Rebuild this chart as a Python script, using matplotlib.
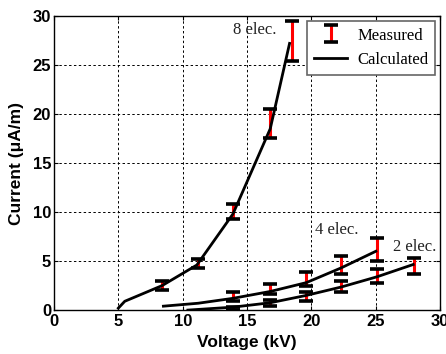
import matplotlib
matplotlib.use("Agg")
import matplotlib.pyplot as plt
from matplotlib.lines import Line2D
import numpy as np

# ---- data ----
calc_x8 = [5.0, 5.5, 8.4, 11.1, 13.9, 16.8, 18.3]
calc_y8 = [0.2, 0.9, 2.5, 4.6, 9.8, 18.5, 27.2]
meas_x8 = [8.4, 11.2, 13.9, 16.8, 18.5]
lo8 = [2.1, 4.3, 9.3, 17.6, 25.4]
hi8 = [3.0, 5.2, 10.8, 20.5, 29.5]

calc_x4 = [8.5, 11.2, 13.9, 16.8, 19.6, 22.3, 25.0]
calc_y4 = [0.4, 0.7, 1.2, 1.9, 2.8, 4.3, 6.0]
meas_x4 = [13.9, 16.8, 19.6, 22.3, 25.1]
lo4 = [0.9, 1.6, 2.5, 3.7, 5.0]
hi4 = [1.8, 2.7, 3.9, 5.5, 7.4]

calc_x2 = [10.4, 13.9, 16.8, 19.6, 22.3, 25.1, 27.9]
calc_y2 = [0.0, 0.3, 0.75, 1.5, 2.35, 3.4, 4.65]
meas_x2 = [13.9, 16.8, 19.6, 22.3, 25.1, 28.0]
lo2 = [0.0, 0.45, 0.9, 1.8, 2.8, 3.7]
hi2 = [0.35, 1.0, 1.85, 3.0, 4.15, 5.35]

labels = [("8 elec.", 13.9, 28.6), ("4 elec.", 20.3, 8.2), ("2 elec.", 26.3, 6.4)]
ticks = [0, 5, 10, 15, 20, 25, 30]

fig = plt.figure(figsize=(4.46, 3.54), dpi=100)
ax = fig.add_axes([0.121, 0.124, 0.866, 0.831])

sans = "Liberation Sans"
serif = "Liberation Serif"

err_handle = None
for mx, lo, hi in [(meas_x8, lo8, hi8), (meas_x4, lo4, hi4), (meas_x2, lo2, hi2)]:
    lo = np.array(lo); hi = np.array(hi)
    mid = (lo + hi) / 2
    c = ax.errorbar(mx, mid, yerr=[mid - lo, hi - mid], fmt='none', ecolor='red',
                    elinewidth=2.2, capsize=5.0, capthick=2.6, zorder=3)
    for cl in c[1]:
        cl.set_color('black')
        cl.set_markeredgecolor('black')
    err_handle = c

for cx, cy in [(calc_x8, calc_y8), (calc_x4, calc_y4), (calc_x2, calc_y2)]:
    ax.plot(cx, cy, color='black', lw=2.0, zorder=4)

for t, x, y in labels:
    ax.text(x, y, t, family=serif, fontsize=12, va='center', ha='left', color='#222222')

ax.set_xlim(0, 30)
ax.set_ylim(0, 30)
ax.set_xticks(ticks)
ax.set_yticks(ticks)
ax.grid(True, color='black', linestyle=(0, (2.5, 2.5)), linewidth=0.7)
ax.set_axisbelow(True)
ax.tick_params(direction='in', length=3, top=True, right=True, labelsize=12, pad=3)
ax.tick_params(axis='y', pad=2)
for lab in ax.get_xticklabels() + ax.get_yticklabels():
    lab.set_family(sans)
    lab.set_fontweight('bold')
ax.set_xlabel("Voltage (kV)", family=sans, fontweight='bold', fontsize=12.5, labelpad=4)
ax.set_ylabel("Current (\u03bcA/m)", family=sans, fontweight='bold', fontsize=12.5, labelpad=6)
for s in ax.spines.values():
    s.set_linewidth(1.0)

line_handle = Line2D([], [], color='black', lw=2.0)
leg = ax.legend([err_handle, line_handle], ["Measured", "Calculated"], loc='upper right',
                prop={'family': serif, 'size': 12}, fancybox=False, framealpha=1,
                edgecolor='#666666', borderaxespad=0.3, handlelength=2.0,
                handletextpad=0.6, labelspacing=0.5)
leg.get_frame().set_linewidth(1.2)

fig.savefig("out.png", dpi=100)
